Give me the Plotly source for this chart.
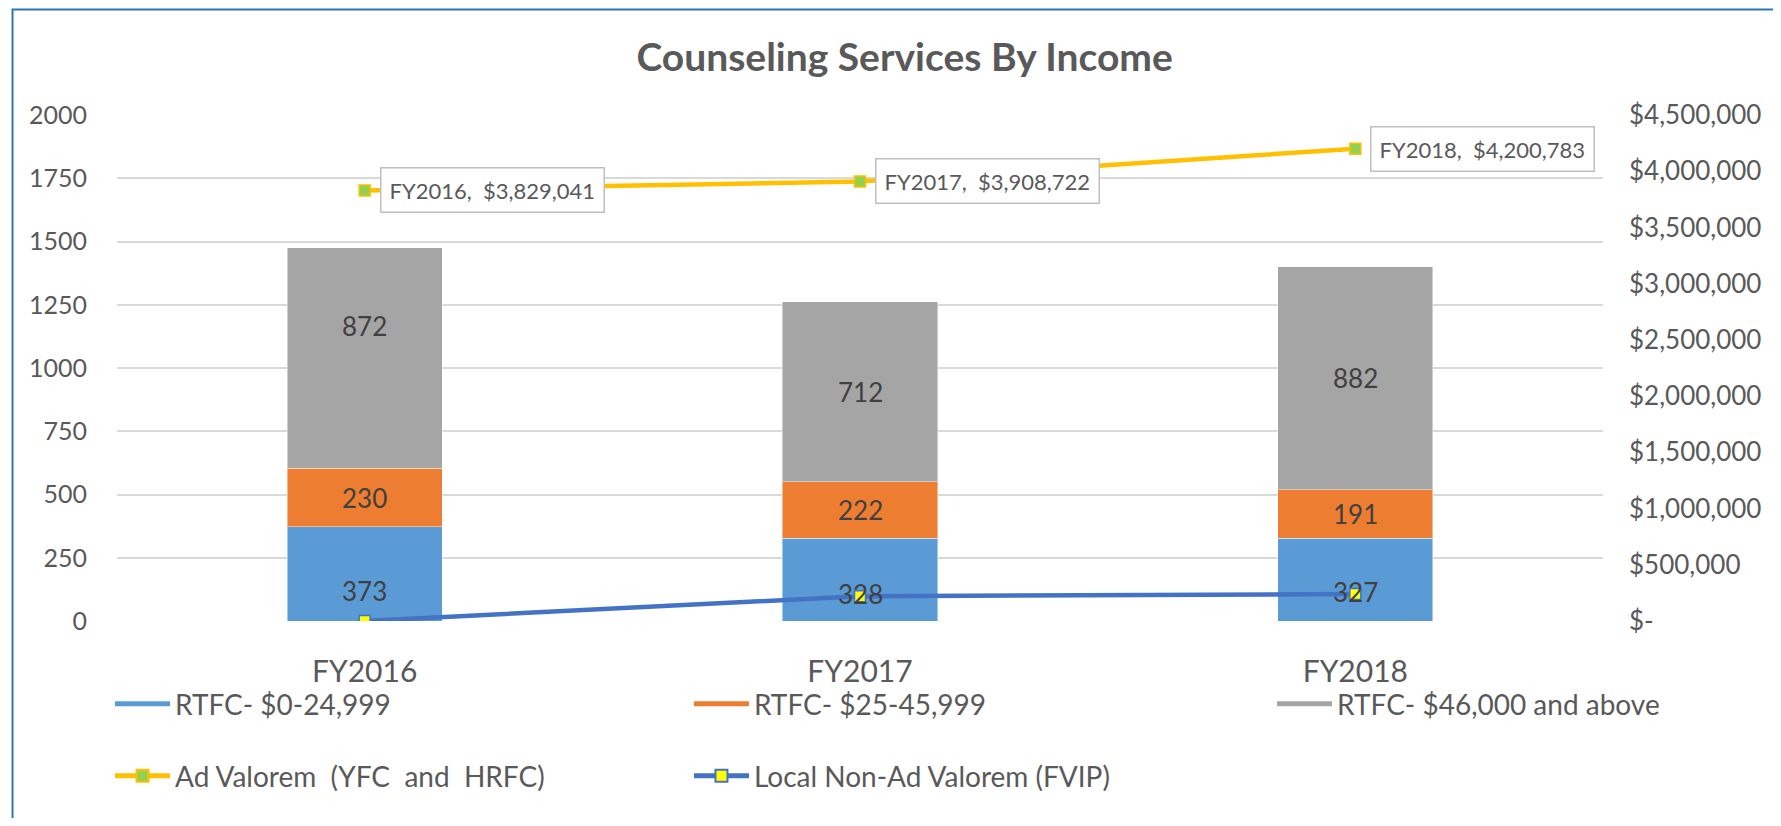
import plotly.graph_objects as go

categories = ["FY2016", "FY2017", "FY2018"]
rtfc_low = [373, 328, 327]
rtfc_mid = [230, 222, 191]
rtfc_high = [872, 712, 882]
ad_valorem = [3829041, 3908722, 4200783]
non_ad_valorem = [0, 220000, 240000]

left_ticks = [0, 250, 500, 750, 1000, 1250, 1500, 1750, 2000]
right_ticks = [0, 500000, 1000000, 1500000, 2000000, 2500000, 3000000, 3500000, 4000000, 4500000]
right_labels = ["$-", "$500,000", "$1,000,000", "$1,500,000", "$2,000,000", "$2,500,000",
                "$3,000,000", "$3,500,000", "$4,000,000", "$4,500,000"]

FONT = "Lato"
GRAY_TXT = "#595959"
LBL_TXT = "#404040"

fig = go.Figure()

bar_specs = [
    ("RTFC- $0-24,999", rtfc_low, "#5B9BD5", "legend"),
    ("RTFC- $25-45,999", rtfc_mid, "#ED7D31", "legend2"),
    ("RTFC- $46,000 and above", rtfc_high, "#A5A5A5", "legend3"),
]
# pixel nudges of individual data labels, as moved in the original chart
label_nudge = {(0, 0): -17, (0, 1): -14, (0, 2): -12, (2, 0): 32}

base = [0] * len(categories)
for si, (name, vals, col, lg) in enumerate(bar_specs):
    fig.add_trace(go.Bar(
        x=categories, y=vals, name=name, legendgroup=name, showlegend=False,
        marker=dict(color=col, line=dict(width=1, color="rgba(255,255,255,0.45)")),
        yaxis="y", hoverinfo="x+y+name",
    ))
    # wide legend swatch (Excel-style rectangle) linked to the bar series
    fig.add_trace(go.Scatter(
        x=[None], y=[None], mode="lines", name=name, legendgroup=name,
        line=dict(color=col, width=17), legend=lg, hoverinfo="skip",
    ))
    for ci, (c, v) in enumerate(zip(categories, vals)):
        fig.add_annotation(
            x=c, y=base[ci] + v / 2, xref="x", yref="y", text=str(v), showarrow=False,
            yshift=label_nudge.get((si, ci), 0),
            font=dict(family=FONT, size=26, color=LBL_TXT),
        )
        base[ci] += v

fig.add_trace(go.Scatter(
    x=categories, y=ad_valorem, name="Ad Valorem  (YFC  and  HRFC)", mode="lines+markers",
    line=dict(color="#FFC000", width=4.5),
    marker=dict(symbol="square", size=11, color="#92D050", line=dict(color="#FFC000", width=1.5)),
    yaxis="y2", legend="legend4",
))
fig.add_trace(go.Scatter(
    x=categories, y=non_ad_valorem, name="Local Non-Ad Valorem (FVIP)", mode="lines+markers",
    line=dict(color="#4472C4", width=4.5),
    marker=dict(symbol="square", size=11, color="#FFFF00", line=dict(color="#4472C4", width=1.5)),
    yaxis="y2", legend="legend5",
))

for c, v in zip(categories, ad_valorem):
    fig.add_annotation(
        x=c, y=v, xref="x", yref="y2", text=f"{c},  ${v:,.0f}", showarrow=False,
        xanchor="left", yanchor="middle", xshift=15,
        bgcolor="white", bordercolor="#BFBFBF", borderwidth=1.5, borderpad=8,
        font=dict(family=FONT, size=22, color=GRAY_TXT),
    )

legend_common = dict(orientation="h", yanchor="middle", xanchor="left",
                     bgcolor="rgba(0,0,0,0)", font=dict(family=FONT, size=28, color=GRAY_TXT),
                     itemsizing="constant", itemwidth=55)
fig.update_layout(
    width=1765, height=810,
    margin=dict(l=109, r=162, t=107, b=197),
    paper_bgcolor="white", plot_bgcolor="white",
    barmode="stack", bargap=0.687,
    title=dict(text="<b>Counseling Services By Income</b>", x=0.508, xanchor="center",
               y=0.9395, yanchor="middle", font=dict(family=FONT, size=39, color=GRAY_TXT)),
    xaxis=dict(showgrid=False, showline=False, ticks="", tickfont=dict(family=FONT, size=30, color=GRAY_TXT),
               ticklabelstandoff=30),
    yaxis=dict(range=[0, 2000], tickvals=left_ticks, showgrid=True, gridcolor="#D9D9D9", gridwidth=1.5,
               zeroline=False, showline=False, tickfont=dict(family=FONT, size=25, color=GRAY_TXT),
               ticklabelstandoff=29),
    yaxis2=dict(range=[0, 4500000], overlaying="y", side="right", tickvals=right_ticks, ticktext=right_labels,
                showgrid=False, zeroline=False, showline=False,
                tickfont=dict(family=FONT, size=26, color=GRAY_TXT), ticklabelstandoff=25),
    legend=dict(x=-0.0047, y=-0.164, **legend_common),
    legend2=dict(x=0.3849, y=-0.164, **legend_common),
    legend3=dict(x=0.7773, y=-0.164, **legend_common),
    legend4=dict(x=-0.0047, y=-0.3066, **legend_common),
    legend5=dict(x=0.3849, y=-0.3066, **legend_common),
    showlegend=True,
)

fig.add_shape(type="rect", xref="paper", yref="paper", x0=-0.0703, x1=1.2, y0=-0.5, y1=1.2087,
              line=dict(color="#2E75B6", width=2), fillcolor="rgba(0,0,0,0)", layer="above")

fig.write_html("out.html")
